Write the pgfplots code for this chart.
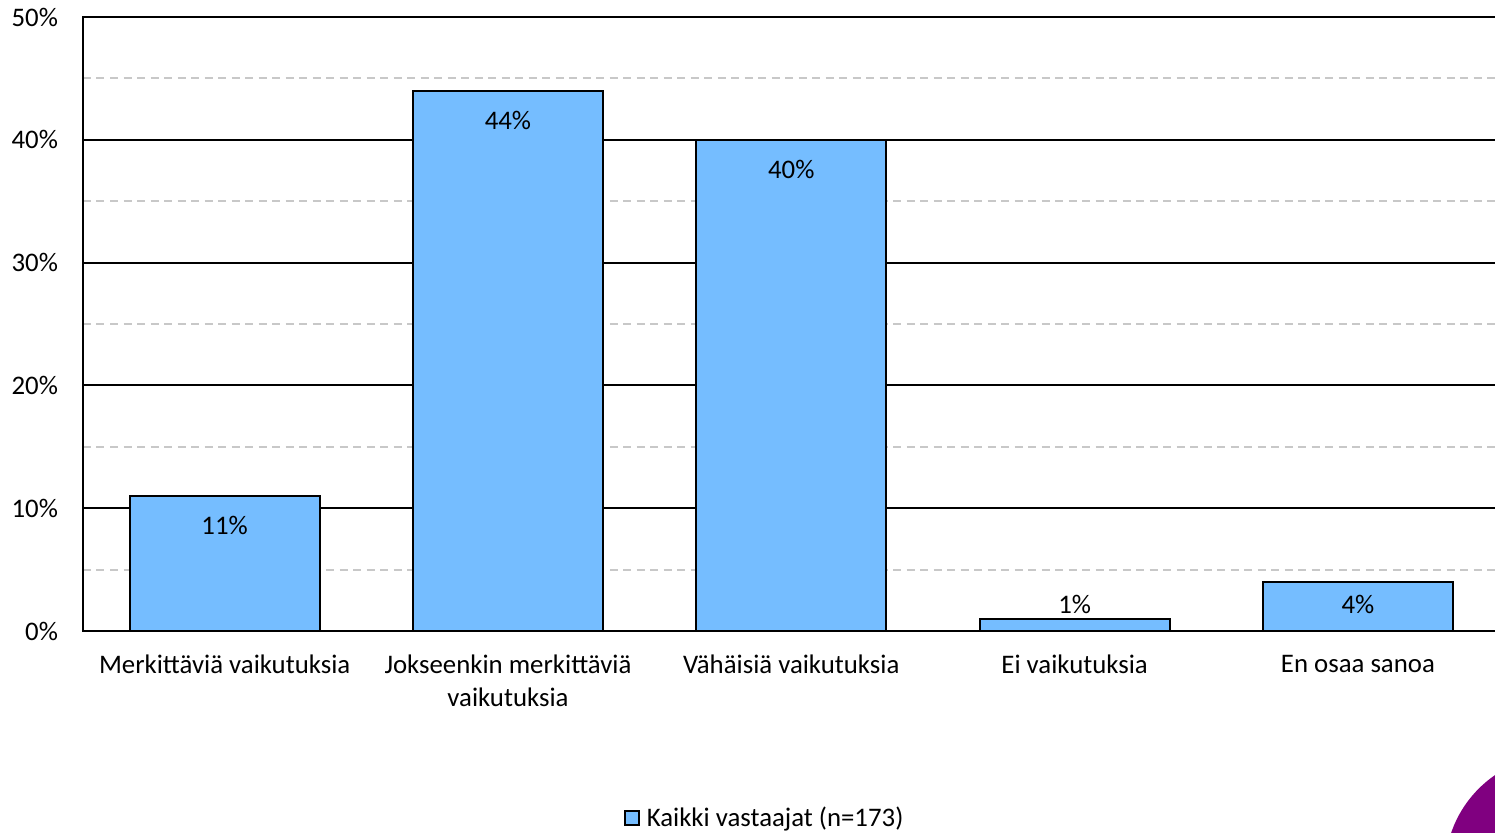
\documentclass[border=0pt]{standalone}
\usepackage{fontspec}
\setmainfont{Carlito}
\usepackage{pgfplots}
\pgfplotsset{compat=1.18}
\definecolor{barblue}{HTML}{75BDFF}
\definecolor{logopurple}{HTML}{800080}
\definecolor{dashgray}{HTML}{C8C8C8}
\begin{document}
\begin{tikzpicture}[x=1pt,y=1pt, font=\fontsize{13.4}{16.5}\selectfont]
\begin{axis}[
  at={(41.5pt,101pt)}, anchor=south west,
  scale only axis, width=708.3pt, height=307pt,
  xmin=-0.5, xmax=4.5, ymin=0, ymax=50,
  xtick={0,1,2,3,4},
  xticklabels={Merkittäviä vaikutuksia, {Jokseenkin merkittäviä\\vaikutuksia}, Vähäisiä vaikutuksia, Ei vaikutuksia, En osaa sanoa},
  ytick={0,10,20,30,40,50}, minor ytick={5,15,25,35,45},
  ymajorgrids, yminorgrids,
  major grid style={black, line width=1pt},
  minor grid style={draw=dashgray, dash pattern=on 4pt off 2.75pt, line width=1pt},
  axis line style={black, line width=1pt},
  major tick length=0pt, minor tick length=0pt,
  tick style={draw=none},
  /pgf/number format/assume math mode=true,
  yticklabel={\pgfmathprintnumber{\tick}\%},
  yticklabel style={anchor=east, xshift=-9pt},
  xticklabel style={anchor=north, yshift=-8.5pt, align=center},
  legend style={at={(0.482,-0.3046)}, anchor=center, draw=none, fill=none, inner sep=0pt,
    /tikz/every odd column/.style={column sep=1.5pt}},
  legend cell align=left,
]
\addplot[ybar, bar width=95pt, fill=barblue, draw=black, line width=1pt,
  legend image code/.code={\draw[fill=barblue, draw=black, line width=0.8pt] (0pt,-3.5pt) rectangle (7pt,3.5pt);}]
  coordinates {(0,11) (1,44) (2,40) (3,1) (4,4)};
\addlegendentry{Kaikki vastaajat (n=173)}
\addplot[draw=none, mark=none, forget plot, point meta=explicit symbolic,
  nodes near coords, nodes near coords style={anchor=center}]
  coordinates {(0,8.63)[11\%] (1,41.6)[44\%] (2,37.6)[40\%] (3,2.2)[1\%] (4,2.2)[4\%]};
\end{axis}
\begin{scope}
\clip (0,0) rectangle (747.5,416.5);
\fill[logopurple] (780,-18.5) circle (57.5);
\end{scope}
\pgfresetboundingbox
\useasboundingbox (0,0) rectangle (747.5,416.5);
\end{tikzpicture}
\end{document}
